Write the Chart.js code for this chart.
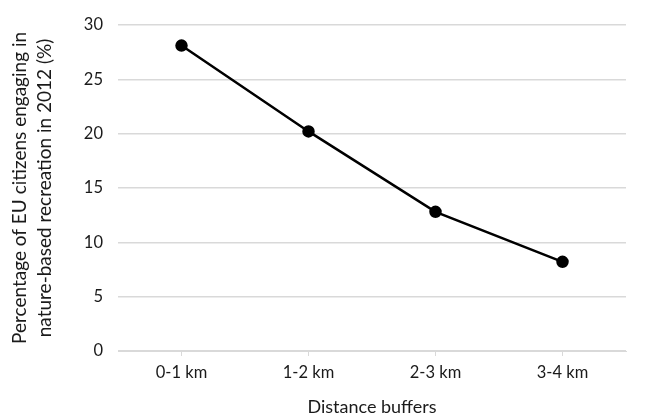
<!DOCTYPE html>
<html>
<head>
<meta charset="utf-8">
<script src="https://cdn.jsdelivr.net/npm/chart.js@4.4.0/dist/chart.umd.min.js"></script>
<style>
  html, body { margin: 0; padding: 0; background: #fff; }
  #wrap { width: 646px; height: 418px; }
</style>
</head>
<body>
<div id="wrap"><canvas id="chart" width="646" height="418"></canvas></div>
<script>
// values
const categories = ['0-1 km', '1-2 km', '2-3 km', '3-4 km'];
const recreationShare = [28.1, 20.2, 12.8, 8.2];
const yTicks = [0, 5, 10, 15, 20, 25, 30];

const fontFamily = 'Lato, "Open Sans", sans-serif';
const gridGray = '#d9d9d9';

var ctx = document.getElementById('chart').getContext('2d');
var myChart = new Chart(ctx, {
    type: 'line',
    data: {
        labels: categories,
        datasets: [{
            data: recreationShare,
            borderColor: '#000',
            backgroundColor: '#000',
            borderWidth: 2.5,
            pointRadius: 5,
            pointHoverRadius: 5,
            tension: 0
        }]
    },
    options: {
        responsive: false,
        animation: false,
        layout: { padding: { top: 19, right: 20, left: 0, bottom: 0 } },
        plugins: {
            legend: { display: false },
            tooltip: { enabled: false }
        },
        scales: {
            x: {
                offset: true,
                grid: {
                    drawOnChartArea: false,
                    drawTicks: true,
                    tickLength: 5,
                    color: gridGray
                },
                border: { display: true, color: gridGray, width: 1 },
                ticks: {
                    color: '#1a1a1a',
                    font: { family: fontFamily, size: 16.5 },
                    padding: 7,
                    maxRotation: 0
                },
                title: {
                    display: true,
                    text: 'Distance buffers',
                    color: '#1a1a1a',
                    font: { family: fontFamily, size: 18 },
                    padding: { top: 5, bottom: 0 }
                },
                afterFit: function (scale) { scale.height = 67; }
            },
            y: {
                min: 0,
                max: 30,
                afterBuildTicks: function (scale) {
                    scale.ticks = yTicks.map(v => ({ value: v }));
                },
                grid: {
                    color: gridGray,
                    lineWidth: 1.5,
                    drawTicks: false
                },
                border: { display: false },
                ticks: {
                    color: '#1a1a1a',
                    font: { family: fontFamily, size: 16.5 },
                    padding: 15
                },
                title: {
                    display: true,
                    text: ['Percentage of EU citizens engaging in', 'nature-based recreation in 2012 (%)'],
                    color: '#1a1a1a',
                    font: { family: fontFamily, size: 19, lineHeight: 1.3 },
                    padding: { top: 8, bottom: 10 }
                },
                afterFit: function (scale) { scale.width = 118; }
            }
        }
    }
});
</script>
</body>
</html>
